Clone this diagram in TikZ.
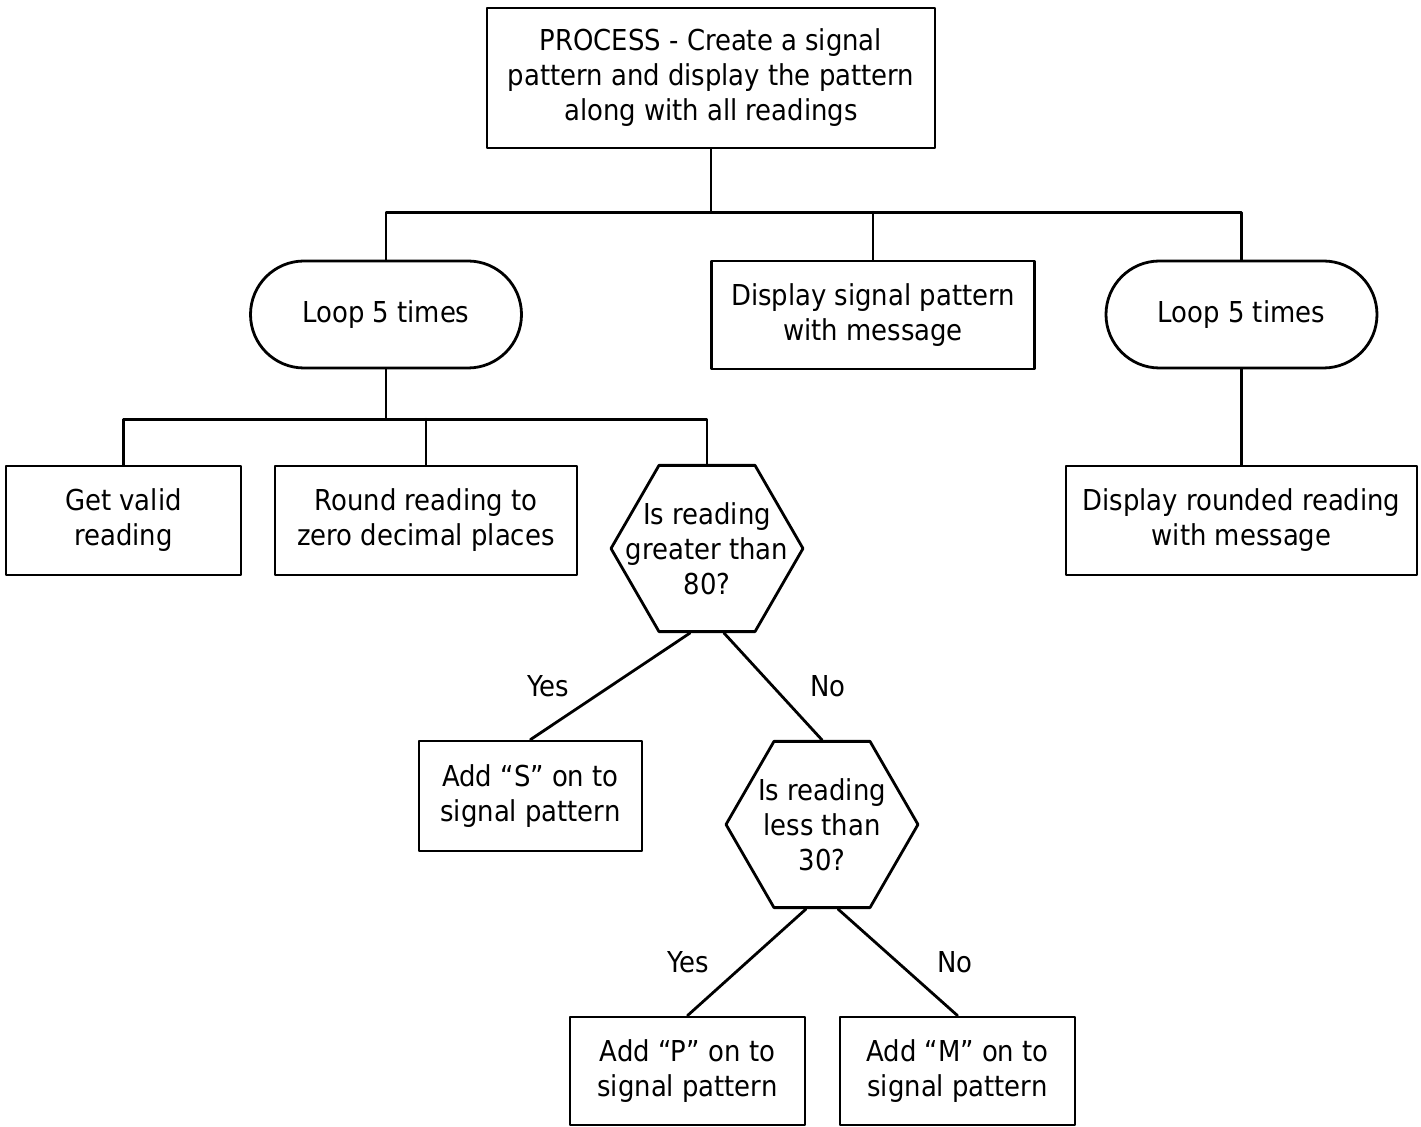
\documentclass[tikz,border=0pt]{standalone}
\usepackage{fontspec}
\setmainfont{DejaVu Sans Condensed}
\usetikzlibrary{shapes.geometric,shapes.misc}

\begin{document}
\begin{tikzpicture}[line cap=round,line join=round,x=0.5pt,y=-0.5pt,
  every node/.style={font=\fontsize{14.4}{17.5}\selectfont,align=center},
  laatikko/.style={draw,line width=1.4pt,rectangle,inner sep=0pt},
  silmukka/.style={draw,line width=1.4pt,rounded rectangle,inner sep=0pt,minimum width=135.5pt,minimum height=53.5pt},
  kysymys/.style={draw,line width=1.4pt,regular polygon,regular polygon sides=6,inner sep=0pt,minimum size=96pt},
  viiva/.style={line width=1.4pt},
  teksti/.style={inner sep=0pt}]
\useasboundingbox (0,0) rectangle (1421,1127);

%ylin laatikko
\node [laatikko,minimum width=224pt,minimum height=70pt] (proc) at (711,78) {PROCESS - Create a signal\\pattern and display the pattern\\along with all readings};

%toinen taso
\node [silmukka] (loopa) at (386,314.5) {Loop 5 times};
\node [laatikko,minimum width=161.5pt,minimum height=54pt] (disp) at (873,315) {Display signal pattern\\with message};
\node [silmukka] (loopb) at (1241.5,314.5) {Loop 5 times};

%kolmas taso
\node [laatikko,minimum width=117.5pt,minimum height=54.5pt] (get) at (123.5,520.5) {Get valid\\reading};
\node [laatikko,minimum width=151pt,minimum height=54.5pt] (round) at (426,520.5) {Round reading to\\zero decimal places};
\node [kysymys,label={[teksti]center:Is reading\\greater than\\80?}] (q1) at (707,548.5) {};
\node [laatikko,minimum width=175.5pt,minimum height=54.5pt] (dispr) at (1241.5,520.5) {Display rounded reading\\with message};

%valinnat
\node [laatikko,minimum width=111.5pt,minimum height=55pt] (sadd) at (530.5,796) {Add \char8220S\char8221{} on to\\signal pattern};
\node [kysymys,label={[teksti]center:Is reading\\less than\\30?}] (q2) at (822,824.5) {};
\node [laatikko,minimum width=117.5pt,minimum height=54pt] (padd) at (687.5,1071) {Add \char8220P\char8221{} on to\\signal pattern};
\node [laatikko,minimum width=117.5pt,minimum height=54pt] (madd) at (957.5,1071) {Add \char8220M\char8221{} on to\\signal pattern};

%viivat
\draw [viiva] (proc.south) -- ++(0,63) coordinate (j1);
\draw [viiva] (loopa.north) |- (j1) -| (loopb.north);
\draw [viiva] (disp.north) -- (disp.north |- j1);
\draw [viiva] (loopa.south) -- ++(0,50) coordinate (j2);
\draw [viiva] (get.north) |- (j2) -| (q1.north);
\draw [viiva] (round.north) -- (round.north |- j2);
\draw [viiva] (loopb.south) -- (dispr.north);

%kyllä ja ei
\draw [viiva] ([xshift=-8.5pt]q1.south) -- node [teksti,midway,left=20pt] (yes1) {Yes} (sadd.north);
\draw [viiva] ([xshift=8.5pt]q1.south) -- node [teksti,midway,right=18pt] (no1) {No} (q2.north);
\draw [viiva] ([xshift=-8pt]q2.south) -- node [teksti,midway,left=18pt] (yes2) {Yes} (padd.north);
\draw [viiva] ([xshift=8pt]q2.south) -- node [teksti,midway,right=19pt] (no2) {No} (madd.north);
\end{tikzpicture}
\end{document}
